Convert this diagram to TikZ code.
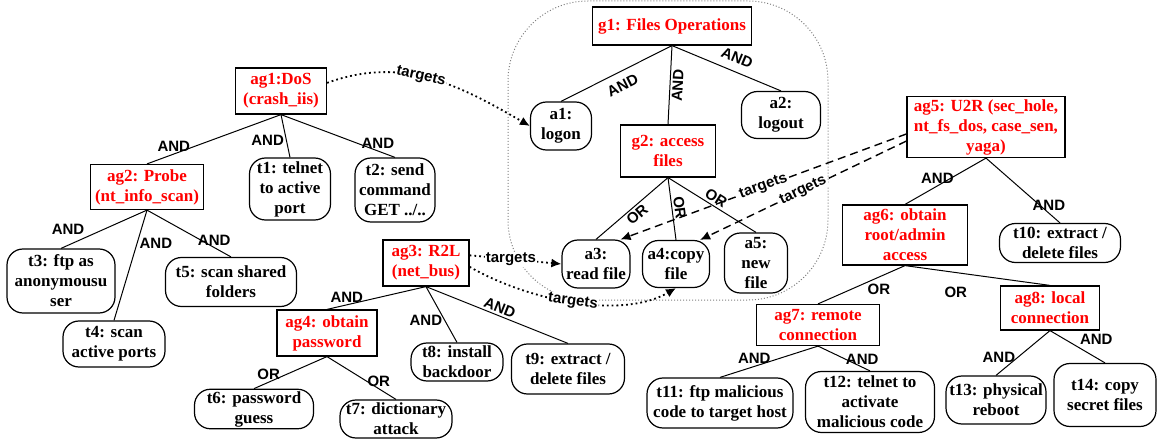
\documentclass[tikz,border=0pt]{standalone}
\usepackage{fontspec}
\setmainfont{Liberation Serif}
\setsansfont{Liberation Sans}
\usetikzlibrary{arrows.meta}

\begin{document}
\begin{tikzpicture}[x = 0.5pt, y = 0.5pt,
  goal/.style = {draw, line width = 0.6pt, text = red, align = center, inner sep = 1pt, font = \bfseries\fontsize{8.5}{10}\selectfont},
  leaf/.style = {draw, line width = 0.6pt, rounded corners = 8pt, align = center, inner sep = 1pt, font = \bfseries\fontsize{8.5}{10}\selectfont},
  sz/.style 2 args = {minimum width = #1pt, minimum height = #2pt},
  gate/.style = {font = \sffamily\bfseries\fontsize{7.5}{8}\selectfont, inner sep = 1pt},
  tgt/.style = {font = \sffamily\bfseries\fontsize{7.5}{8}\selectfont, inner sep = 0.5pt, fill = white},
  link/.style = {line width = 0.5pt},
  dotlink/.style = {line width = 0.9pt, dash pattern = on 0.9pt off 1.5pt, -{Latex[length = 5pt, width = 4.5pt]}},
  dashlink/.style = {line width = 0.7pt, dash pattern = on 4pt off 2.5pt, -{Latex[length = 5pt, width = 4.5pt]}}]
\useasboundingbox (0,0) rectangle (1158,440);
\draw[gray, line width = 0.5pt, dash pattern = on 0.5pt off 1pt, rounded corners = 40pt] (508,140) rectangle (828,439);

\node[goal, sz = {45.5}{23}] (ag1) at (281,349) {ag1:DoS\\(crash\_iis)};
\node[goal, sz = {56.5}{22.5}] (ag2) at (147,253) {ag2: Probe\\(nt\_info\_scan)};
\node[leaf, sz = {40.5}{31}] (t1) at (290,251) {t1: telnet\\to active\\port};
\node[leaf, sz = {40}{32}] (t2) at (395,250) {t2: send\\command\\GET ../..};
\node[leaf, sz = {54}{32}] (t3) at (61,159) {t3: ftp as\\anonymousu\\ser};
\node[leaf, sz = {51}{23}] (t4) at (114,96) {t4: scan\\active ports};
\node[leaf, sz = {65.5}{24.5}] (t5) at (231,158) {t5: scan shared\\folders};
\node[goal, sz = {43}{23}] (ag3) at (426,177) {ag3: R2L\\(net\_bus)};
\node[goal, sz = {50}{23}] (ag4) at (327,107) {ag4: obtain\\password};
\node[leaf, sz = {59.5}{19}] (t6) at (254,31) {t6: password\\guess};
\node[leaf, sz = {56}{19}] (t7) at (396,21) {t7: dictionary\\attack};
\node[leaf, sz = {46}{19}] (t8) at (457,78) {t8: install\\backdoor};
\node[leaf, sz = {56.5}{25}] (t9) at (568,71) {t9: extract /\\delete files};

\node[goal, sz = {79.5}{19}] (g1) at (672,414) {g1: Files Operations};
\node[leaf, sz = {30.5}{24}] (a1) at (561,314) {a1:\\logon};
\node[leaf, sz = {39.5}{23.5}] (a2) at (781,325) {a2:\\logout};
\node[goal, sz = {47.5}{26}] (g2) at (668,289) {g2: access\\files};
\node[leaf, sz = {34}{24}] (a3) at (596,176) {a3:\\read file};
\node[leaf, sz = {33.5}{23.5}] (a4) at (676,176) {a4:copy\\file};
\node[leaf, sz = {31.5}{30}] (a5) at (756,177) {a5:\\new\\file};

\node[goal, sz = {79}{30.5}] (ag5) at (986,313) {ag5: U2R (sec\_hole,\\nt\_fs\_dos, case\_sen,\\yaga)};
\node[goal, sz = {62.5}{30}] (ag6) at (905,205) {ag6: obtain\\root/admin\\access};
\node[leaf, sz = {60.5}{19.5}] (t10) at (1060,197) {t10: extract /\\delete files};
\node[goal, sz = {61.5}{20.5}] (ag7) at (818,115) {ag7: remote\\connection};
\node[goal, sz = {49.5}{22}] (ag8) at (1050,132) {ag8: local\\connection};
\node[leaf, sz = {73}{25}] (t11) at (720,37) {t11: ftp malicious\\code to target host};
\node[leaf, sz = {64.5}{30.5}] (t12) at (870,38) {t12: telnet to\\activate\\malicious code};
\node[leaf, sz = {50}{24}] (t13) at (996,40) {t13: physical\\reboot};
\node[leaf, sz = {51}{31.5}] (t14) at (1105,45) {t14: copy\\secret files};

\draw[link] (ag1.south) -- node[gate, pos = .8, above] {AND} (ag2.north);
\draw[link] (ag1.south) -- node[gate, pos = .6, left] {AND} (t1.north);
\draw[link] (ag1.south) -- node[gate, pos = .85, above] {AND} (t2.north);
\draw[link] (ag2.south) -- node[gate, pos = .7, above left] {AND} (t3.north);
\draw[link] (ag2.south) -- node[gate, pos = .3, right] {AND} (t4.north);
\draw[link] (ag2.south) -- node[gate, pos = .8, above] {AND} (t5.north);
\draw[link] (ag3.south) -- node[gate, pos = .8, above] {AND} (ag4.north);
\draw[link] (ag3.south) -- node[gate, pos = .6, left] {AND} (t8.north);
\draw[link] (ag3.south) -- node[gate, pos = .5, above, sloped] {AND} (t9.north);
\draw[link] (ag4.south) -- node[gate, pos = .8, above] {OR} (t6.north);
\draw[link] (ag4.south) -- node[gate, pos = .75, above] {OR} (t7.north);

\draw[link] (g1.south) -- node[gate, pos = .5, below = 3pt, sloped] {AND} (a1.north);
\draw[link] (g1.south) -- node[gate, pos = .5, below, sloped] {AND} (g2.north);
\draw[link] (g1.south) -- node[gate, pos = .55, above = 3pt, sloped] {AND} (a2.north);
\draw[link] (g2.south) -- node[gate, pos = .5, below, sloped] {OR} (a3.north);
\draw[link] (g2.south) -- node[gate, pos = .5, above, sloped] {OR} (a4.north);
\draw[link] (g2.south) -- node[gate, pos = .5, above, sloped] {OR} (a5.north);

\draw[link] (ag5.south) -- node[gate, pos = .6, above] {AND} (ag6.north);
\draw[link] (ag5.south) -- node[gate, pos = .85, above] {AND} (t10.north);
\draw[link] (ag6.south) -- node[gate, pos = .3, below = 2pt] {OR} (ag7.north);
\draw[link] (ag6.south) -- node[gate, pos = .35, below = 6pt] {OR} (ag8.north);
\draw[link] (ag7.south) -- node[gate, pos = .65, above] {AND} (t11.north);
\draw[link] (ag7.south) -- node[gate, pos = .85, above] {AND} (t12.north);
\draw[link] (ag8.south) -- node[gate, pos = .6, left] {AND} (t13.north);
\draw[link] (ag8.south) -- node[gate, pos = .5, above right] {AND} (t14.north);

\draw[dotlink] (ag1.10) to[out = 20, in = 150] node[tgt, pos = .45, sloped] {targets} (a1.west);
\draw[dotlink] (ag3.10) -- node[tgt, pos = .45] {targets} (a3.west);
\draw[dotlink] (ag3.-5) to[out = -30, in = -150, looseness = .8] node[tgt, pos = .5, sloped] {targets} (a4.south);
\draw[dashlink] (ag5.185) -- node[tgt, pos = .5, sloped] {targets} (a3.45);
\draw[dashlink] (ag5.190) -- node[tgt, pos = .5, sloped] {targets} (a4.45);
\end{tikzpicture}
\end{document}
